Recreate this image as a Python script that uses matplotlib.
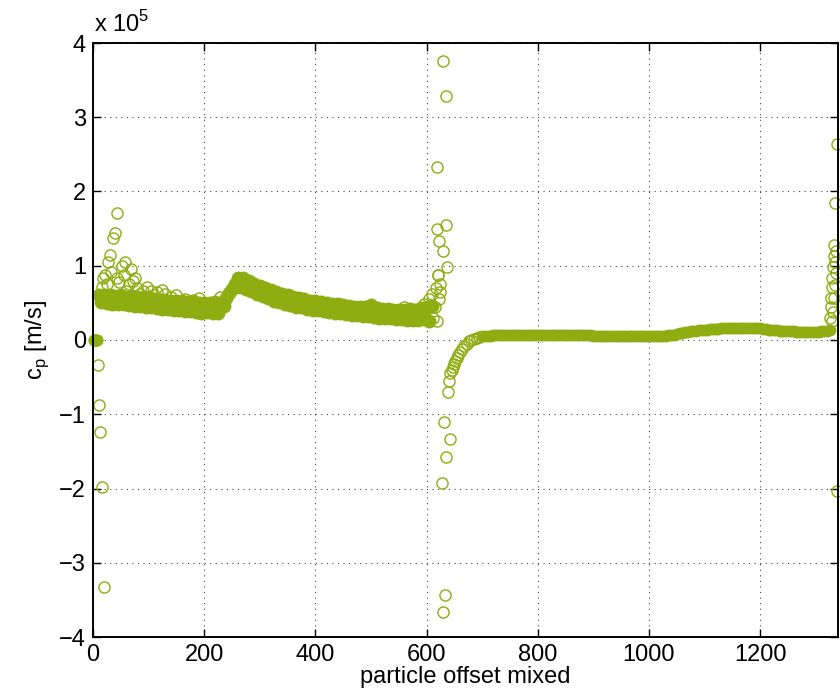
import numpy as np
import matplotlib
matplotlib.use("Agg")
import matplotlib.pyplot as plt

# values are in units of 1e5 m/s

# zero cluster at the very start
x_zero = [1, 2, 3, 4, 5, 6, 7, 8]
y_zero = [0, 0, 0, 0, 0, 0, 0, 0]

# first dense band, x = 10 .. 610 step 5
band1 = [0.60, 0.51, 0.61, 0.50, 0.60, 0.49, 0.59, 0.49, 0.60, 0.48,
         0.58, 0.47, 0.59, 0.46, 0.58, 0.46, 0.57, 0.45, 0.58, 0.45,
         0.55, 0.43, 0.54, 0.42, 0.54, 0.42, 0.53, 0.41, 0.53, 0.41,
         0.52, 0.39, 0.51, 0.39, 0.51, 0.38, 0.50, 0.37, 0.50, 0.38,
         0.50, 0.36, 0.51, 0.37, 0.49, 0.46, 0.56, 0.63, 0.69, 0.76,
         0.84, 0.72, 0.84, 0.69, 0.80, 0.66, 0.76, 0.62, 0.73, 0.59,
         0.70, 0.56, 0.67, 0.53, 0.65, 0.51, 0.62, 0.49, 0.60, 0.47,
         0.58, 0.45, 0.56, 0.44, 0.55, 0.42, 0.53, 0.41, 0.52, 0.40,
         0.51, 0.39, 0.50, 0.38, 0.49, 0.37, 0.48, 0.36, 0.47, 0.35,
         0.46, 0.34, 0.45, 0.33, 0.45, 0.32, 0.44, 0.32, 0.47, 0.31,
         0.43, 0.30, 0.42, 0.29, 0.42, 0.29, 0.41, 0.28, 0.41, 0.28,
         0.40, 0.27, 0.42, 0.27, 0.40, 0.27, 0.43, 0.28, 0.45, 0.26,
         0.46]
x_band1 = 10 + 5 * np.arange(len(band1))

# scattered points above the first band
x_scat = [16, 18, 22, 27, 31, 36, 39, 43, 52, 58, 43, 72, 76, 97, 124,
          60, 85, 110, 140, 165, 200, 228, 500, 560,
          25, 33, 47, 55, 64, 68, 80, 90, 105, 115, 130, 150, 180, 190,
          595, 605, 610, 612, 615, 617, 620, 622, 618, 625]
y_scat = [0.72, 0.83, 0.88, 1.05, 1.14, 1.37, 1.44, 1.71, 1.00, 1.05,
          0.83, 0.79, 0.84, 0.72, 0.68, 0.66, 0.62, 0.60, 0.58, 0.55,
          0.50, 0.58, 0.45, 0.45,
          0.75, 0.92, 0.78, 0.88, 0.75, 0.95, 0.70, 0.66, 0.66, 0.64,
          0.62, 0.60, 0.54, 0.56,
          0.48, 0.55, 0.62, 0.30, 0.45, 0.70, 0.88, 0.55, 0.26, 0.65]

# negative outliers near the start
x_neg0 = [9, 11, 13, 16, 20]
y_neg0 = [-0.33, -0.87, -1.24, -1.98, -3.33]

# spike around 620-645
x_spike = [619, 630, 635, 635, 619, 623, 629, 637, 621, 625,
           628, 631, 642, 635, 633, 629, 638, 640]
y_spike = [2.33, 3.76, 3.28, 1.55, 1.49, 1.33, 1.20, 0.98, 0.88, 0.75,
           -1.92, -1.10, -1.33, -1.58, -3.43, -3.67, -0.70, -0.55]

# recovery after the spike
x_rec = [643, 645, 647, 649, 651, 654, 657, 660, 664, 668, 672, 676,
         680, 685, 690, 695]
y_rec = [-0.45, -0.40, -0.36, -0.32, -0.28, -0.24, -0.20, -0.16, -0.12,
         -0.08, -0.05, -0.02, 0.0, 0.02, 0.03, 0.04]

# second smooth band, x = 700 .. 1325 step 5
band2 = [0.05, 0.055, 0.06, 0.06, 0.065, 0.065, 0.07, 0.07, 0.07, 0.07,
         0.07, 0.07, 0.07, 0.07, 0.07, 0.07, 0.07, 0.07, 0.07, 0.07,
         0.07, 0.07, 0.068, 0.068, 0.068, 0.066, 0.066, 0.066, 0.065, 0.065,
         0.065, 0.064, 0.064, 0.063, 0.063, 0.062, 0.062, 0.062, 0.061, 0.061,
         0.06, 0.06, 0.06, 0.06, 0.06, 0.06, 0.06, 0.06, 0.06, 0.06,
         0.06, 0.06, 0.06, 0.06, 0.06, 0.06, 0.06, 0.06, 0.06, 0.06,
         0.06, 0.06, 0.06, 0.06, 0.06, 0.06, 0.06, 0.062, 0.065, 0.07,
         0.08, 0.09, 0.10, 0.105, 0.11, 0.115, 0.12, 0.125, 0.13, 0.132,
         0.135, 0.14, 0.145, 0.148, 0.15, 0.153, 0.155, 0.157, 0.16, 0.162,
         0.163, 0.165, 0.165, 0.166, 0.165, 0.164, 0.163, 0.162, 0.16, 0.158,
         0.155, 0.15, 0.145, 0.14, 0.135, 0.13, 0.128, 0.125, 0.122, 0.12,
         0.118, 0.116, 0.115, 0.114, 0.113, 0.112, 0.112, 0.112, 0.112, 0.112,
         0.112, 0.113, 0.115, 0.118, 0.12, 0.13]
x_band2 = 700 + 5 * np.arange(len(band2))

# spike at the right edge
x_end = [1326, 1327, 1328, 1329, 1330, 1331, 1332, 1333, 1335, 1338,
         1339, 1330, 1331, 1333, 1334, 1336, 1337, 1334]
y_end = [0.29, 0.44, 0.57, 0.71, 0.83, 0.98, 1.13, 1.28, 1.84, 2.64,
         -2.03, 0.25, 0.38, 0.56, 0.74, 1.20, 0.90, 1.05]

green = '#8dad10'
plt.rcParams['font.family'] = ['Liberation Sans', 'DejaVu Sans']

fig = plt.figure(figsize=(8.4, 7), dpi=100)
ax = fig.add_axes([93 / 840, 1 - 637 / 700, 745 / 840, 594 / 700])

# dense parts: circles overlap so much that they read as a solid band
x_dense = np.concatenate([x_zero, x_band1, x_band2])
y_dense = np.concatenate([y_zero, band1, band2]) * 1e5
ax.plot(x_dense, y_dense, 'o', color=green, markersize=7.5,
        markeredgewidth=1.0, clip_on=False)
# band 1 still shows open rims at its edges
ax.plot(x_band1, np.array(band1) * 1e5, 'o', markerfacecolor='none',
        markeredgecolor=green, markersize=9, markeredgewidth=1.0)

# sparse parts: open circles
x_open = np.concatenate([x_scat, x_neg0, x_spike, x_rec, x_end])
y_open = np.concatenate([y_scat, y_neg0, y_spike, y_rec, y_end]) * 1e5
ax.plot(x_open, y_open, 'o', markerfacecolor='none', markeredgecolor=green,
        markersize=8, markeredgewidth=1.0, clip_on=False)

ax.set_xlim(0, 1340)
ax.set_ylim(-4e5, 4e5)
ax.set_xticks(np.arange(0, 1400, 200))
yt = np.arange(-4, 5)
ax.set_yticks(yt * 1e5)
ax.set_yticklabels([str(v).replace('-', '\u2212') for v in yt])

ax.grid(True, color='#444444', linestyle=(0, (1, 4)), linewidth=0.8)
ax.tick_params(direction='in', length=6, width=1, top=True, right=True,
               labelsize=17, pad=5)
for s in ax.spines.values():
    s.set_linewidth(1.4)

ax.set_xlabel('particle offset mixed', fontsize=17, labelpad=0)
ax.set_ylabel('c$_\\mathregular{p}$ [m/s]', fontsize=17, labelpad=6)
fig.text(94 / 840, 1 - 32 / 700, 'x 10$^\\mathregular{5}$', fontsize=17,
         va='baseline', ha='left')

fig.savefig('out.png', dpi=100)
